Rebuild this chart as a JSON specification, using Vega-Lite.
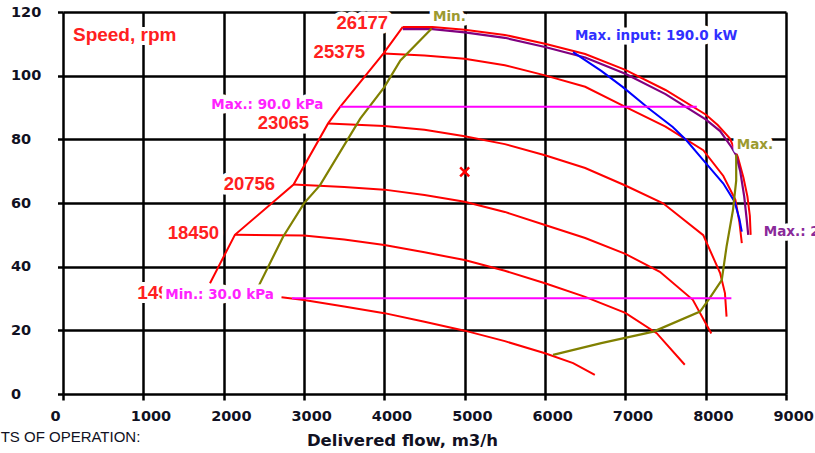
{
  "$schema": "https://vega.github.io/schema/vega-lite/v6.json",
  "autosize": {"type": "none"},
  "padding": {"left": 63, "top": 12, "right": 29, "bottom": 59},
  "width": 723,
  "height": 382,
  "background": "white",
  "config": {"view": {"stroke": null}},
  "datasets": {
    "ticks": [{"t": 0}, {"t": 1000}, {"t": 2000}, {"t": 3000}, {"t": 4000}, {"t": 5000}, {"t": 6000}, {"t": 7000}, {"t": 8000}, {"t": 9000}],
    "speed": [
      {"id": "surge", "o": 1, "x": 1830, "y": 34.8}, {"id": "surge", "o": 2, "x": 2140, "y": 50}, {"id": "surge", "o": 3, "x": 2870, "y": 65.8}, {"id": "surge", "o": 4, "x": 3300, "y": 85}, {"id": "surge", "o": 5, "x": 3450, "y": 90.2}, {"id": "surge", "o": 6, "x": 3990, "y": 107}, {"id": "surge", "o": 7, "x": 4230, "y": 115.3},
      {"id": "26177", "o": 1, "x": 4230, "y": 115.3}, {"id": "26177", "o": 2, "x": 4600, "y": 115.3}, {"id": "26177", "o": 3, "x": 5000, "y": 114.4}, {"id": "26177", "o": 4, "x": 5500, "y": 112.8}, {"id": "26177", "o": 5, "x": 6000, "y": 110}, {"id": "26177", "o": 6, "x": 6500, "y": 106.8}, {"id": "26177", "o": 7, "x": 7000, "y": 101.8}, {"id": "26177", "o": 8, "x": 7500, "y": 95.5}, {"id": "26177", "o": 9, "x": 8000, "y": 87.8}, {"id": "26177", "o": 10, "x": 8150, "y": 84.5}, {"id": "26177", "o": 11, "x": 8300, "y": 80.3}, {"id": "26177", "o": 12, "x": 8400, "y": 74.5}, {"id": "26177", "o": 13, "x": 8470, "y": 68}, {"id": "26177", "o": 14, "x": 8520, "y": 62}, {"id": "26177", "o": 15, "x": 8550, "y": 56}, {"id": "26177", "o": 16, "x": 8560, "y": 50},
      {"id": "25375", "o": 1, "x": 3990, "y": 107}, {"id": "25375", "o": 2, "x": 4500, "y": 106.3}, {"id": "25375", "o": 3, "x": 5000, "y": 105.3}, {"id": "25375", "o": 4, "x": 5500, "y": 103.3}, {"id": "25375", "o": 5, "x": 6000, "y": 100.1}, {"id": "25375", "o": 6, "x": 6500, "y": 96.5}, {"id": "25375", "o": 7, "x": 7000, "y": 90.2}, {"id": "25375", "o": 8, "x": 7500, "y": 84}, {"id": "25375", "o": 9, "x": 7970, "y": 76.6}, {"id": "25375", "o": 10, "x": 8220, "y": 68.5}, {"id": "25375", "o": 11, "x": 8370, "y": 61}, {"id": "25375", "o": 12, "x": 8420, "y": 54}, {"id": "25375", "o": 13, "x": 8450, "y": 47.4},
      {"id": "23065", "o": 1, "x": 3300, "y": 85}, {"id": "23065", "o": 2, "x": 4000, "y": 84.2}, {"id": "23065", "o": 3, "x": 4500, "y": 83}, {"id": "23065", "o": 4, "x": 5000, "y": 81}, {"id": "23065", "o": 5, "x": 5500, "y": 78.5}, {"id": "23065", "o": 6, "x": 6000, "y": 75}, {"id": "23065", "o": 7, "x": 6500, "y": 71}, {"id": "23065", "o": 8, "x": 7000, "y": 65.5}, {"id": "23065", "o": 9, "x": 7470, "y": 59.9}, {"id": "23065", "o": 10, "x": 7970, "y": 49.9}, {"id": "23065", "o": 11, "x": 8180, "y": 38}, {"id": "23065", "o": 12, "x": 8240, "y": 31.7}, {"id": "23065", "o": 13, "x": 8260, "y": 24.3},
      {"id": "20756", "o": 1, "x": 2870, "y": 65.8}, {"id": "20756", "o": 2, "x": 3500, "y": 65}, {"id": "20756", "o": 3, "x": 4000, "y": 64.2}, {"id": "20756", "o": 4, "x": 4500, "y": 62.5}, {"id": "20756", "o": 5, "x": 5000, "y": 60.4}, {"id": "20756", "o": 6, "x": 5500, "y": 57.2}, {"id": "20756", "o": 7, "x": 6000, "y": 53.1}, {"id": "20756", "o": 8, "x": 6500, "y": 49}, {"id": "20756", "o": 9, "x": 7000, "y": 44}, {"id": "20756", "o": 10, "x": 7430, "y": 38.4}, {"id": "20756", "o": 11, "x": 7840, "y": 29.6}, {"id": "20756", "o": 12, "x": 8070, "y": 19},
      {"id": "18450", "o": 1, "x": 2140, "y": 50}, {"id": "18450", "o": 2, "x": 3000, "y": 49.8}, {"id": "18450", "o": 3, "x": 3500, "y": 48.5}, {"id": "18450", "o": 4, "x": 4000, "y": 46.8}, {"id": "18450", "o": 5, "x": 4500, "y": 44.5}, {"id": "18450", "o": 6, "x": 5000, "y": 42.1}, {"id": "18450", "o": 7, "x": 5500, "y": 38.7}, {"id": "18450", "o": 8, "x": 6000, "y": 34.8}, {"id": "18450", "o": 9, "x": 6500, "y": 30.5}, {"id": "18450", "o": 10, "x": 7000, "y": 25.5}, {"id": "18450", "o": 11, "x": 7390, "y": 19.1}, {"id": "18450", "o": 12, "x": 7740, "y": 9.2},
      {"id": "149", "o": 1, "x": 2720, "y": 30.4}, {"id": "149", "o": 2, "x": 3000, "y": 29.5}, {"id": "149", "o": 3, "x": 3500, "y": 27.5}, {"id": "149", "o": 4, "x": 4000, "y": 25.4}, {"id": "149", "o": 5, "x": 4500, "y": 22.7}, {"id": "149", "o": 6, "x": 5000, "y": 19.9}, {"id": "149", "o": 7, "x": 5500, "y": 16.6}, {"id": "149", "o": 8, "x": 6000, "y": 12.8}, {"id": "149", "o": 9, "x": 6350, "y": 9.7}, {"id": "149", "o": 10, "x": 6620, "y": 6}
    ],
    "purple": [
      {"o": 1, "x": 4230, "y": 114.6}, {"o": 2, "x": 4600, "y": 114.6}, {"o": 3, "x": 5000, "y": 113.6}, {"o": 4, "x": 5500, "y": 111.9}, {"o": 5, "x": 6000, "y": 109}, {"o": 6, "x": 6500, "y": 105.7}, {"o": 7, "x": 7000, "y": 100.6}, {"o": 8, "x": 7500, "y": 94.2}, {"o": 9, "x": 8000, "y": 86.3}, {"o": 10, "x": 8180, "y": 82.6}, {"o": 11, "x": 8320, "y": 77.6}, {"o": 12, "x": 8380, "y": 75}, {"o": 13, "x": 8430, "y": 70}, {"o": 14, "x": 8480, "y": 62}, {"o": 15, "x": 8510, "y": 55}, {"o": 16, "x": 8530, "y": 50}
    ],
    "blue": [
      {"o": 1, "x": 6350, "y": 107.4}, {"o": 2, "x": 6700, "y": 101.5}, {"o": 3, "x": 6970, "y": 96.4}, {"o": 4, "x": 7300, "y": 89.5}, {"o": 5, "x": 7590, "y": 83.9}, {"o": 6, "x": 7760, "y": 79.7}, {"o": 7, "x": 7970, "y": 73.5}, {"o": 8, "x": 8220, "y": 66.1}, {"o": 9, "x": 8360, "y": 60.4}, {"o": 10, "x": 8420, "y": 55}, {"o": 11, "x": 8450, "y": 51}
    ],
    "olive": [
      {"id": "min", "o": 1, "x": 2370, "y": 30.6}, {"id": "min", "o": 2, "x": 2740, "y": 49.4}, {"id": "min", "o": 3, "x": 3000, "y": 59.9}, {"id": "min", "o": 4, "x": 3200, "y": 65.6}, {"id": "min", "o": 5, "x": 3700, "y": 86.5}, {"id": "min", "o": 6, "x": 4000, "y": 96.4}, {"id": "min", "o": 7, "x": 4200, "y": 104.8}, {"id": "min", "o": 8, "x": 4590, "y": 114.8},
      {"id": "max", "o": 1, "x": 6100, "y": 12.3}, {"id": "max", "o": 2, "x": 6700, "y": 16}, {"id": "max", "o": 3, "x": 7350, "y": 19.6}, {"id": "max", "o": 4, "x": 7930, "y": 25.9}, {"id": "max", "o": 5, "x": 8050, "y": 30.1}, {"id": "max", "o": 6, "x": 8200, "y": 35.8}, {"id": "max", "o": 7, "x": 8260, "y": 46.3}, {"id": "max", "o": 8, "x": 8340, "y": 57.8}, {"id": "max", "o": 9, "x": 8380, "y": 67}, {"id": "max", "o": 10, "x": 8380, "y": 75.2}
    ],
    "magenta": [
      {"id": "max", "x": 3450, "y": 90.2}, {"id": "max", "x": 7890, "y": 90.2},
      {"id": "min", "x": 2850, "y": 30.1}, {"id": "min", "x": 8320, "y": 30.1}
    ],
    "point": [{"x": 5000, "y": 69.8}],
    "labels": [
      {"g": "num", "c": "speed", "text": "26177", "x": 4046, "y": 116.4},
      {"g": "num", "c": "speed", "text": "25375", "x": 3760, "y": 107.4},
      {"g": "num", "c": "speed", "text": "23065", "x": 3064, "y": 85.1},
      {"g": "num", "c": "speed", "text": "20756", "x": 2641, "y": 65.9},
      {"g": "num", "c": "speed", "text": "18450", "x": 1944, "y": 50.5},
      {"g": "numl", "c": "speed", "text": "149", "x": 924, "y": 31.8},
      {"g": "numl", "c": "speed", "text": "Speed, rpm", "x": 124, "y": 112.9},
      {"g": "small", "c": "pressure", "text": "Max.: 90.0 kPa", "x": 1845, "y": 90.7},
      {"g": "small", "c": "pressure", "text": "Min.: 30.0 kPa", "x": 1273, "y": 31.1},
      {"g": "small", "c": "flow", "text": "Min.", "x": 4606, "y": 118.4},
      {"g": "small", "c": "flow", "text": "Max.", "x": 8387, "y": 78.2},
      {"g": "small", "c": "power", "text": "Max. input: 190.0 kW", "x": 6372, "y": 112.6},
      {"g": "small", "c": "limit", "text": "Max.: 26177 rpm", "x": 8723, "y": 51},
      {"g": "foot", "c": "note", "text": "POINTS OF OPERATION:", "x": 963, "y": -13.5}
    ]
  },
  "encoding": {
    "x": {"field": "x", "type": "quantitative", "scale": {"domain": [0, 9000], "nice": false, "zero": false},
      "axis": {"values": [0, 1000, 2000, 3000, 4000, 5000, 6000, 7000, 8000, 9000], "format": "d", "grid": true, "gridColor": "#000", "gridWidth": 2.5, "gridOpacity": 1, "domain": false, "ticks": true, "tickColor": "#000", "tickWidth": 2.5, "tickSize": 6, "labelFont": "DejaVu Sans", "labelFontWeight": "bold", "labelFontSize": 14.5, "labelColor": "#111122", "labelAlign": "left", "labelOffset": -13, "labelPadding": 9, "labelBaseline": "top", "labelOverlap": false, "labelFlush": false, "labelBound": false,
        "title": "Delivered flow, m3/h", "titleFont": "DejaVu Sans", "titleFontWeight": "bold", "titleFontSize": 16.5, "titleColor": "#111122", "titleX": 339, "titleY": 46, "titleAlign": "center", "titleAnchor": null, "titleBaseline": "middle"}},
    "y": {"field": "y", "type": "quantitative", "scale": {"domain": [0, 120], "nice": false, "zero": false},
      "axis": {"values": [0, 20, 40, 60, 80, 100, 120], "grid": true, "gridColor": "#000", "gridWidth": 2.5, "gridOpacity": 1, "domain": false, "ticks": true, "tickColor": "#000", "tickWidth": 2.5, "tickSize": 5.5, "labelFont": "DejaVu Sans", "labelFontWeight": "bold", "labelFontSize": 14.5, "labelColor": "#111122", "labelAlign": "left", "labelPadding": 47, "labelBaseline": "middle", "labelOverlap": false, "labelFlush": false, "labelBound": false, "title": null}}
  },
  "layer": [
    {"data": {"name": "ticks"}, "mark": {"type": "rule", "color": "#000", "strokeWidth": 2.5},
      "encoding": {"x": {"field": "t", "type": "quantitative"}, "y": {"datum": 120}, "y2": {"datum": 121.8}}},
    {"data": {"name": "speed"}, "mark": {"type": "line", "color": "#ff0000", "strokeWidth": 2},
      "encoding": {"detail": {"field": "id"}, "order": {"field": "o", "type": "quantitative"}}},
    {"data": {"name": "purple"}, "mark": {"type": "line", "color": "#800080", "strokeWidth": 2.2},
      "encoding": {"order": {"field": "o", "type": "quantitative"}}},
    {"data": {"name": "blue"}, "mark": {"type": "line", "color": "#0000ff", "strokeWidth": 2},
      "encoding": {"order": {"field": "o", "type": "quantitative"}}},
    {"data": {"name": "olive"}, "mark": {"type": "line", "color": "#808000", "strokeWidth": 2.2},
      "encoding": {"detail": {"field": "id"}, "order": {"field": "o", "type": "quantitative"}}},
    {"data": {"name": "magenta"}, "mark": {"type": "line", "color": "#ff00ff", "strokeWidth": 2},
      "encoding": {"detail": {"field": "id"}}},
    {"data": {"name": "point"}, "mark": {"type": "point", "shape": "M-1,-1L1,1M-1,1L1,-1", "filled": false, "color": "#ff0000", "strokeWidth": 2.5, "size": 81, "opacity": 1}},
    {"data": {"name": "labels"}, "transform": [{"filter": "datum.g == 'num'"}],
      "mark": {"type": "text", "align": "right", "baseline": "middle", "font": "Liberation Sans", "fontWeight": "bold", "fontSize": 18.5, "fill": "white", "stroke": "white", "strokeWidth": 9, "strokeJoin": "round"},
      "encoding": {"text": {"field": "text"}}},
    {"data": {"name": "labels"}, "transform": [{"filter": "datum.g == 'num'"}],
      "mark": {"type": "text", "align": "right", "baseline": "middle", "font": "Liberation Sans", "fontWeight": "bold", "fontSize": 18.5, "fill": "#ff2020"},
      "encoding": {"text": {"field": "text"}}},
    {"data": {"name": "labels"}, "transform": [{"filter": "datum.g == 'numl'"}],
      "mark": {"type": "text", "align": "left", "baseline": "middle", "font": "Liberation Sans", "fontWeight": "bold", "fontSize": 19, "fill": "white", "stroke": "white", "strokeWidth": 8, "strokeJoin": "round"},
      "encoding": {"text": {"field": "text"}}},
    {"data": {"name": "labels"}, "transform": [{"filter": "datum.g == 'numl'"}],
      "mark": {"type": "text", "align": "left", "baseline": "middle", "font": "Liberation Sans", "fontWeight": "bold", "fontSize": 19, "fill": "#ff2020"},
      "encoding": {"text": {"field": "text"}}},
    {"data": {"name": "labels"}, "transform": [{"filter": "datum.g == 'small'"}],
      "mark": {"type": "text", "align": "left", "baseline": "middle", "font": "DejaVu Sans", "fontWeight": "bold", "fontSize": 13.5, "fill": "white", "stroke": "white", "strokeWidth": 9, "strokeJoin": "round"},
      "encoding": {"text": {"field": "text"}}},
    {"data": {"name": "labels"}, "transform": [{"filter": "datum.g == 'small'"}],
      "mark": {"type": "text", "align": "left", "baseline": "middle", "font": "DejaVu Sans", "fontWeight": "bold", "fontSize": 13.5},
      "encoding": {"text": {"field": "text"},
        "color": {"field": "c", "type": "nominal", "legend": null, "scale": {"domain": ["pressure", "flow", "power", "limit"], "range": ["#ff22ff", "#9c9a30", "#3030ff", "#8a2a9a"]}}}},
    {"data": {"name": "labels"}, "transform": [{"filter": "datum.g == 'foot'"}],
      "mark": {"type": "text", "align": "right", "baseline": "middle", "font": "Liberation Sans", "fontSize": 15, "fill": "#111122"},
      "encoding": {"text": {"field": "text"}}}
  ]
}
